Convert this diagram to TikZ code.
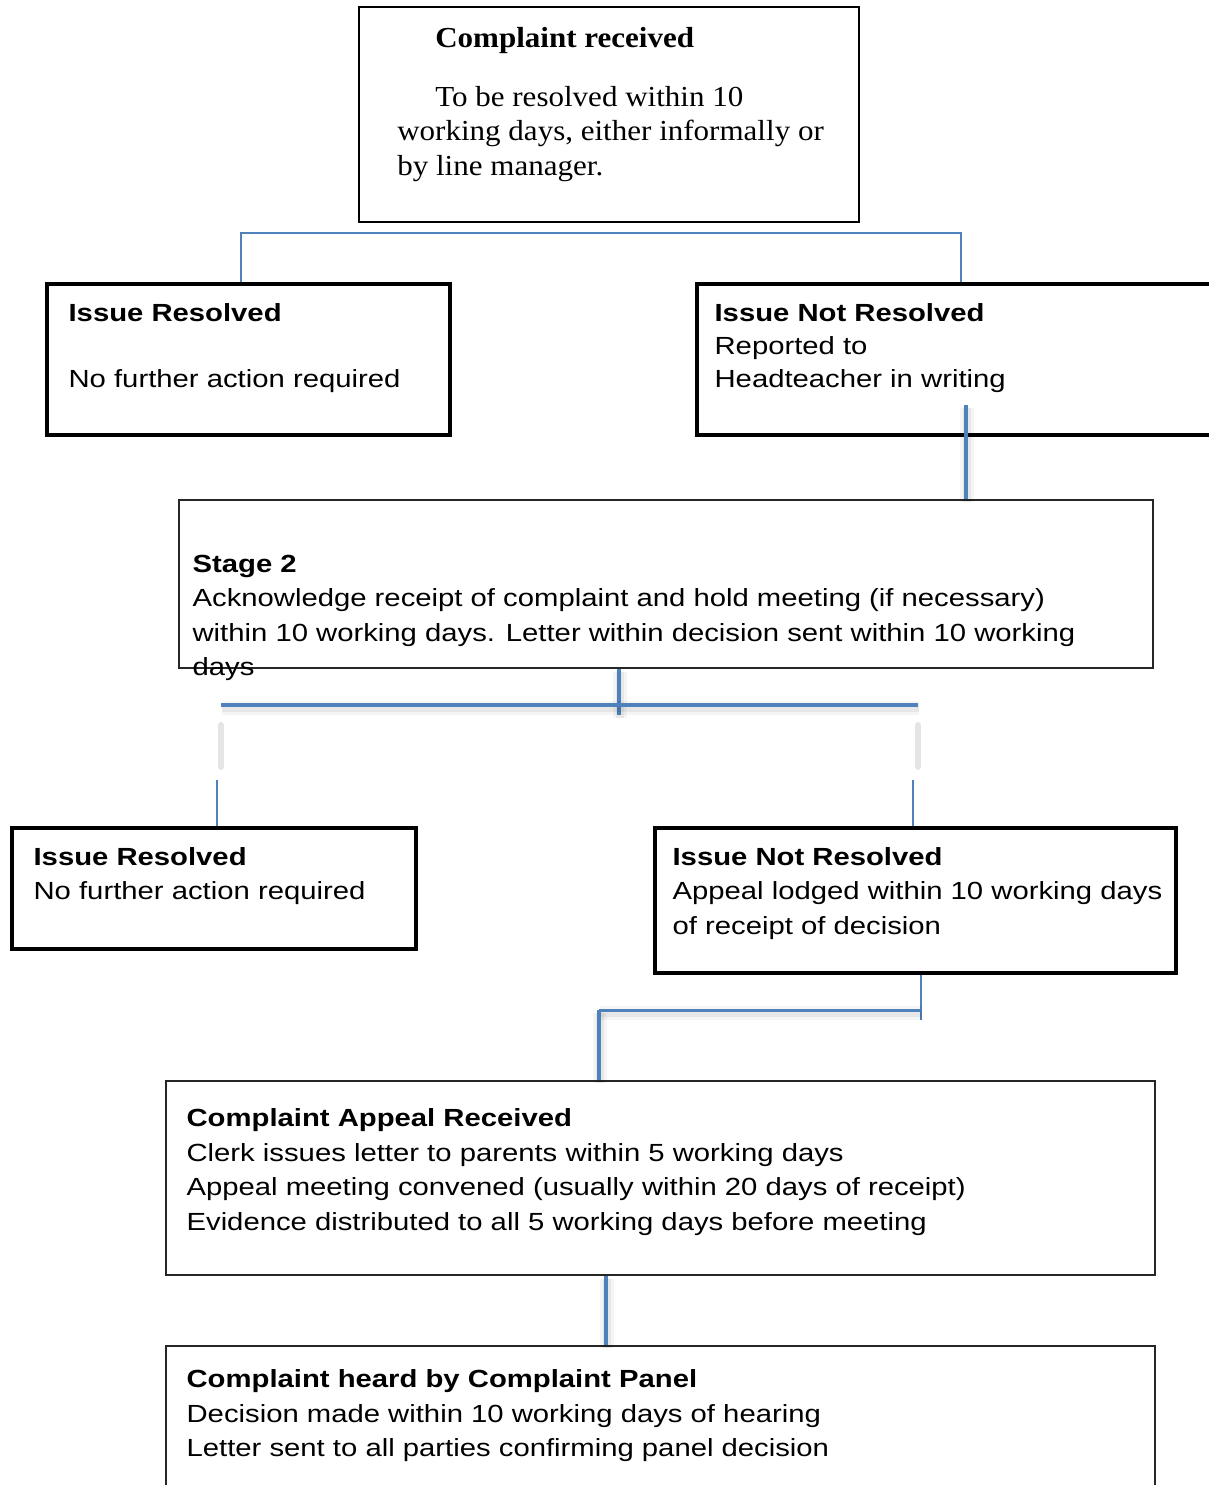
\documentclass[tikz,border=0pt]{standalone}
\usepackage{fontspec}
\setmainfont{Liberation Serif}[FakeStretch=1.07]
\setsansfont{Liberation Sans}[FakeStretch=1.18]
\usepackage{tikz}
\usetikzlibrary{fit}
\definecolor{linkblue}{HTML}{4F81BD}

\begin{document}
\begin{tikzpicture}[x=0.5pt,y=-0.5pt,
			heavy box/.style={draw,line width=1.8pt,inner sep=0pt},
			frame box/.style={draw,line width=1.1pt,inner sep=0pt},
			plain box/.style={draw=black!85,line width=0.8pt,inner sep=0pt},
			box text/.style={anchor=north west,inner sep=0pt,align=left,font=\sffamily\fontsize{12.4}{17.25}\selectfont},
			serif text/.style={anchor=north west,inner sep=0pt,align=left,font=\rmfamily\fontsize{14.5}{17.25}\selectfont},
			link/.style={draw=linkblue,line width=1.2pt},
			heavy link/.style={link,line width=2pt,
				preaction={draw=black,draw opacity=0.04,line width=7pt,transform canvas={xshift=0.5pt,yshift=-1.5pt}},
				preaction={draw=black,draw opacity=0.06,line width=4pt,transform canvas={xshift=0.5pt,yshift=-1.5pt}}},
			ghost/.style={draw=black!10,line width=3pt,line cap=round}]
			
			\useasboundingbox (0,0) rectangle (1209,1485);
			
			% boxes
			\node[frame box,fit={(359,7) (859,222)}] (received) {};
			\node[heavy box,fit={(47,284) (450,435)}] (resolved1) {};
			\node[heavy box,fit={(697,284) (1225,435)}] (open1) {};
			\node[plain box,fit={(179,500) (1153,668)}] (stage2) {};
			\node[heavy box,fit={(12,828) (416,949)}] (resolved2) {};
			\node[heavy box,fit={(655,828) (1176,973)}] (open2) {};
			\node[plain box,fit={(166,1081) (1155,1275)}] (appeal) {};
			\node[plain box,fit={(166,1346) (1155,1500)}] (panel) {};
			
			% texts
			\node[serif text] (received text) at ([shift={(39,17)}]received.north west)
				{\strut\hspace*{19pt}\textbf{Complaint received}\\[12.25pt]
				\hspace*{19pt}To be resolved within 10\\
				working days, either informally or\\
				by line manager.};
			\node[box text] (resolved1 text) at ([shift={(23,14.5)}]resolved1.north west)
				{\strut\textbf{Issue Resolved}\\[15.75pt]No further action required};
			\node[box text] (open1 text) at ([shift={(19,14.5)}]open1.north west)
				{\strut\textbf{Issue Not Resolved}\\[-0.75pt]Reported to\\[-0.75pt]Headteacher in writing};
			\node[box text] (stage2 text) at ([shift={(14,48.5)}]stage2.north west)
				{\strut\textbf{Stage 2}\\
				Acknowledge receipt of complaint and hold meeting (if necessary)\\
				within 10 working days. Letter within decision sent within 10 working\\
				days};
			\node[box text] (resolved2 text) at ([shift={(23,14.5)}]resolved2.north west)
				{\strut\textbf{Issue Resolved}\\No further action required};
			\node[box text] (open2 text) at ([shift={(19,14.5)}]open2.north west)
				{\strut\textbf{Issue Not Resolved}\\Appeal lodged within 10 working days\\of receipt of decision};
			\node[box text] (appeal text) at ([shift={(21,22)}]appeal.north west)
				{\strut\textbf{Complaint Appeal Received}\\
				Clerk issues letter to parents within 5 working days\\
				Appeal meeting convened (usually within 20 days of receipt)\\
				Evidence distributed to all 5 working days before meeting};
			\node[box text] (panel text) at ([shift={(21,18)}]panel.north west)
				{\strut\textbf{Complaint heard by Complaint Panel}\\
				Decision made within 10 working days of hearing\\
				Letter sent to all parties confirming panel decision};
			
			% connectors
			\coordinate (split1 l) at (241,233);
			\coordinate (split1 r) at (961,233);
			\coordinate (drop1) at (966,405);
			\coordinate (split2) at (619,705);
			\coordinate (split2 end) at (619,715);
			\coordinate (split2 l) at (221,705);
			\coordinate (split2 r) at (918,705);
			\coordinate (foot2 l) at (217,780);
			\coordinate (foot2 r) at (913,780);
			\coordinate (step r) at (921,1010);
			\coordinate (step end) at (921,1020);
			\coordinate (step l) at (599,1010);
			\coordinate (drop3) at (606,1300);
			
			\draw[link] (resolved1.north -| split1 l) -- (split1 l) -- (split1 r) -- (open1.north -| split1 r);
			\draw[heavy link] (drop1) -- (stage2.north -| drop1);
			\draw[heavy link] (stage2.south -| split2) -- (split2 end);
			\draw[heavy link] (split2 l) -- (split2 r);
			\draw[ghost] ([shift={(0,20)}]split2 l) -- ([shift={(0,62)}]split2 l);
			\draw[ghost] ([shift={(0,20)}]split2 r) -- ([shift={(0,62)}]split2 r);
			\draw[link] (foot2 l) -- (resolved2.north -| foot2 l);
			\draw[link] (foot2 r) -- (open2.north -| foot2 r);
			\draw[link] (open2.south -| step r) -- (step end);
			\draw[heavy link,line width=1.5pt] (step l) -- (step r);
			\draw[heavy link] (step l) -- (appeal.north -| step l);
			\draw[heavy link,line width=1.6pt] (appeal.south -| drop3) -- (panel.north -| drop3);
			
			\end{tikzpicture}
\end{document}
